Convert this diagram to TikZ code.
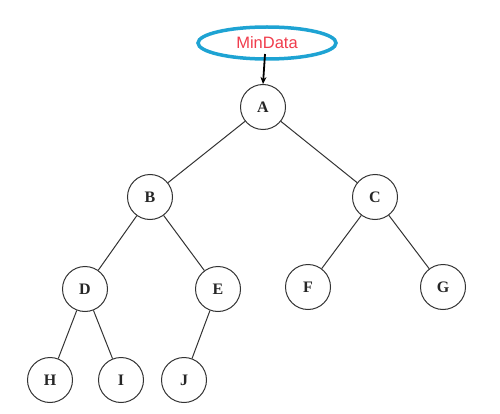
\documentclass[tikz,border=0pt]{standalone}
\usepackage{fontspec}
\setmainfont{Liberation Serif}
\newfontfamily\labelsans{Liberation Sans}
\usetikzlibrary{arrows.meta,shapes.geometric}
\definecolor{ringblue}{HTML}{1EA3D3}
\definecolor{minred}{HTML}{F03C4C}
\definecolor{treegray}{HTML}{333333}
\tikzset{
  treenode/.style={circle, draw=treegray, line width=1pt, minimum size=45pt, inner sep=0pt, font=\fontsize{16}{18}\selectfont\bfseries, text=black!85},
  treeedge/.style={draw=treegray, line width=1pt},
  minnode/.style={ellipse, draw=ringblue, line width=3.5pt, minimum width=138pt, minimum height=32pt, inner sep=0pt, text=minred, font=\labelsans\fontsize{16.5}{19}\selectfont},
  ptr/.style={-{Stealth[length=7pt,width=6pt]}, line width=1.8pt, black}
}
\begin{document}
\begin{tikzpicture}[x=1pt,y=1pt]
\useasboundingbox (0,0) rectangle (500,413);
\node[minnode] (min) at (267,370) {MinData};
\node[treenode] (A) at (263,306) {A};
\node[treenode] (B) at (150,216) {B};
\node[treenode] (C) at (375,216) {C};
\node[treenode] (D) at (85,124) {D};
\node[treenode] (E) at (218,124) {E};
\node[treenode] (F) at (308,126) {F};
\node[treenode] (G) at (443,126) {G};
\node[treenode] (H) at (50,33) {H};
\node[treenode] (I) at (121,33) {I};
\node[treenode] (J) at (184,33) {J};
\draw[treeedge] (A) -- (B);
\draw[treeedge] (A) -- (C);
\draw[treeedge] (B) -- (D);
\draw[treeedge] (B) -- (E);
\draw[treeedge] (C) -- (F);
\draw[treeedge] (C) -- (G);
\draw[treeedge] (D) -- (H);
\draw[treeedge] (D) -- (I);
\draw[treeedge] (E) -- (J);
\coordinate (ptrstart) at ([xshift=-2pt,yshift=-11pt]min.center);
\draw[ptr] (ptrstart) -- (A.north);
\end{tikzpicture}
\end{document}
